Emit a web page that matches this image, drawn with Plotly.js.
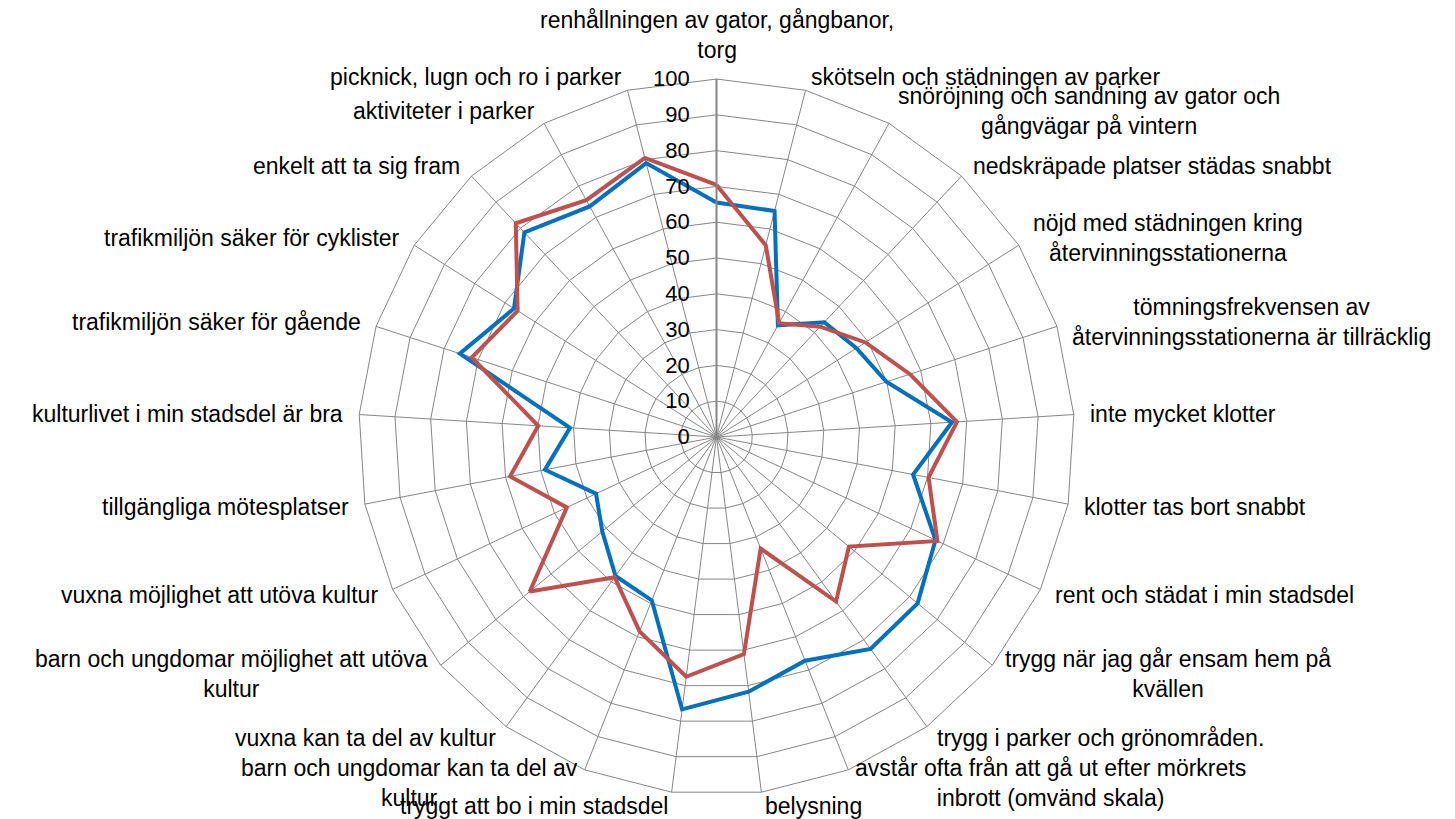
<!DOCTYPE html>
<html>
<head>
<meta charset="utf-8">
<script src="https://cdn.plot.ly/plotly-3.0.1.min.js"></script>
<style>html,body{margin:0;padding:0;background:#fff;}#chart{width:1455px;height:819px;}</style>
</head>
<body>
<div id="chart"></div>
<script>
const categories = [
  "renhållningen av gator, gångbanor,<br>torg",
  "skötseln och städningen av parker",
  "snöröjning och sandning av gator och<br>gångvägar på vintern",
  "nedskräpade platser städas snabbt",
  "nöjd med städningen kring<br>återvinningsstationerna",
  "tömningsfrekvensen av<br>återvinningsstationerna är tillräcklig",
  "inte mycket klotter",
  "klotter tas bort snabbt",
  "rent och städat i min stadsdel",
  "trygg när jag går ensam hem på<br>kvällen",
  "trygg i parker och grönområden.",
  "avstår ofta från att gå ut efter mörkrets<br>inbrott (omvänd skala)",
  "belysning",
  "tryggt att bo i min stadsdel",
  "barn och ungdomar kan ta del av<br>kultur",
  "vuxna kan ta del av kultur",
  "barn och ungdomar möjlighet att utöva<br>kultur",
  "vuxna möjlighet att utöva kultur",
  "tillgängliga mötesplatser",
  "kulturlivet i min stadsdel är bra",
  "trafikmiljön säker för gående",
  "trafikmiljön säker för cyklister",
  "enkelt att ta sig fram",
  "aktiviteter i parker",
  "picknick, lugn och ro i parker"
];
const seriesBlue = [65.5, 65.2, 35.6, 44, 46.3, 49.9, 65.9, 55.9, 67.6, 72.9, 73.2, 67.2, 71.7, 76.7, 49.1, 48, 41.4, 37.2, 48.8, 41, 75.4, 67, 78.4, 73.5, 79];
const seriesRed  = [70.4, 55.3, 36.3, 42.3, 49.3, 56.8, 67.3, 60.3, 68.2, 48, 56.8, 33.5, 61.1, 67.5, 58.4, 48.4, 67.7, 46.2, 58.7, 49.9, 71.9, 65.8, 81.9, 75.5, 80.5];
const radialTicks = [0,10,20,30,40,50,60,70,80,90,100];

const W = 1455, H = 819;
const domX = [0.2464, 0.7385], domY = [0.0293, 0.9035];

function closed(a){ return a.concat([a[0]]); }

const traces = [
  {type:'scatterpolar', mode:'lines', r: closed(seriesBlue), theta: closed(categories),
   line:{color:'#0070C0', width:4}, name:'Serie 1', hoverinfo:'r+theta'},
  {type:'scatterpolar', mode:'lines', r: closed(seriesRed), theta: closed(categories),
   line:{color:'#C0504D', width:4}, name:'Serie 2', hoverinfo:'r+theta'}
];

// Category labels placed outside the polygon, Excel style (box edge at the spoke end, lines centred)
const cx = (domX[0]+domX[1])/2*W;
const cy = (1-(domY[0]+domY[1])/2)*H;
const R = Math.min((domX[1]-domX[0])*W, (domY[1]-domY[0])*H)/2;
const labelGap = 14;
const annotations = categories.map(function(txt, i){
  const th = i*2*Math.PI/categories.length;
  const s = Math.sin(th), c = Math.cos(th);
  const px = cx + (R+labelGap)*s;
  const py = cy - (R+labelGap)*c;
  let xa = 'center', ya = 'middle';
  if (s > 0.05) xa = 'left'; else if (s < -0.05) xa = 'right';
  if (Math.abs(s) <= 0.05) ya = c > 0 ? 'bottom' : 'top';
  return {text: txt, x: px/W, y: 1-py/H, xref:'paper', yref:'paper',
          xanchor: xa, yanchor: ya, align:'center', showarrow:false,
          font:{size:23, color:'#000'}};
});

const layout = {
  width:W, height:H,
  margin:{l:0,r:0,t:0,b:0},
  paper_bgcolor:'#ffffff',
  showlegend:false,
  font:{family:'"Liberation Sans", Arial, sans-serif', size:22, color:'#000'},
  annotations: annotations,
  polar:{
    domain:{x:domX, y:domY},
    bgcolor:'#ffffff',
    gridshape:'linear',
    angularaxis:{
      type:'category', categoryarray:categories, direction:'clockwise', rotation:90,
      showgrid:true, gridcolor:'#868686', gridwidth:1,
      showline:true, linecolor:'#868686', linewidth:1,
      ticks:'', showticklabels:false
    },
    radialaxis:{
      range:[0,100], tickvals:radialTicks, ticktext:radialTicks.map(String),
      angle:90, side:'counterclockwise', tickangle:90,
      showgrid:true, gridcolor:'#868686', gridwidth:1,
      showline:true, linecolor:'#868686', linewidth:2,
      ticks:'outside', ticklen:18, tickcolor:'rgba(0,0,0,0)',
      tickfont:{size:22, color:'#000'}
    }
  }
};
Plotly.newPlot('chart', traces, layout, {displayModeBar:false, staticPlot:true});
</script>
</body>
</html>
